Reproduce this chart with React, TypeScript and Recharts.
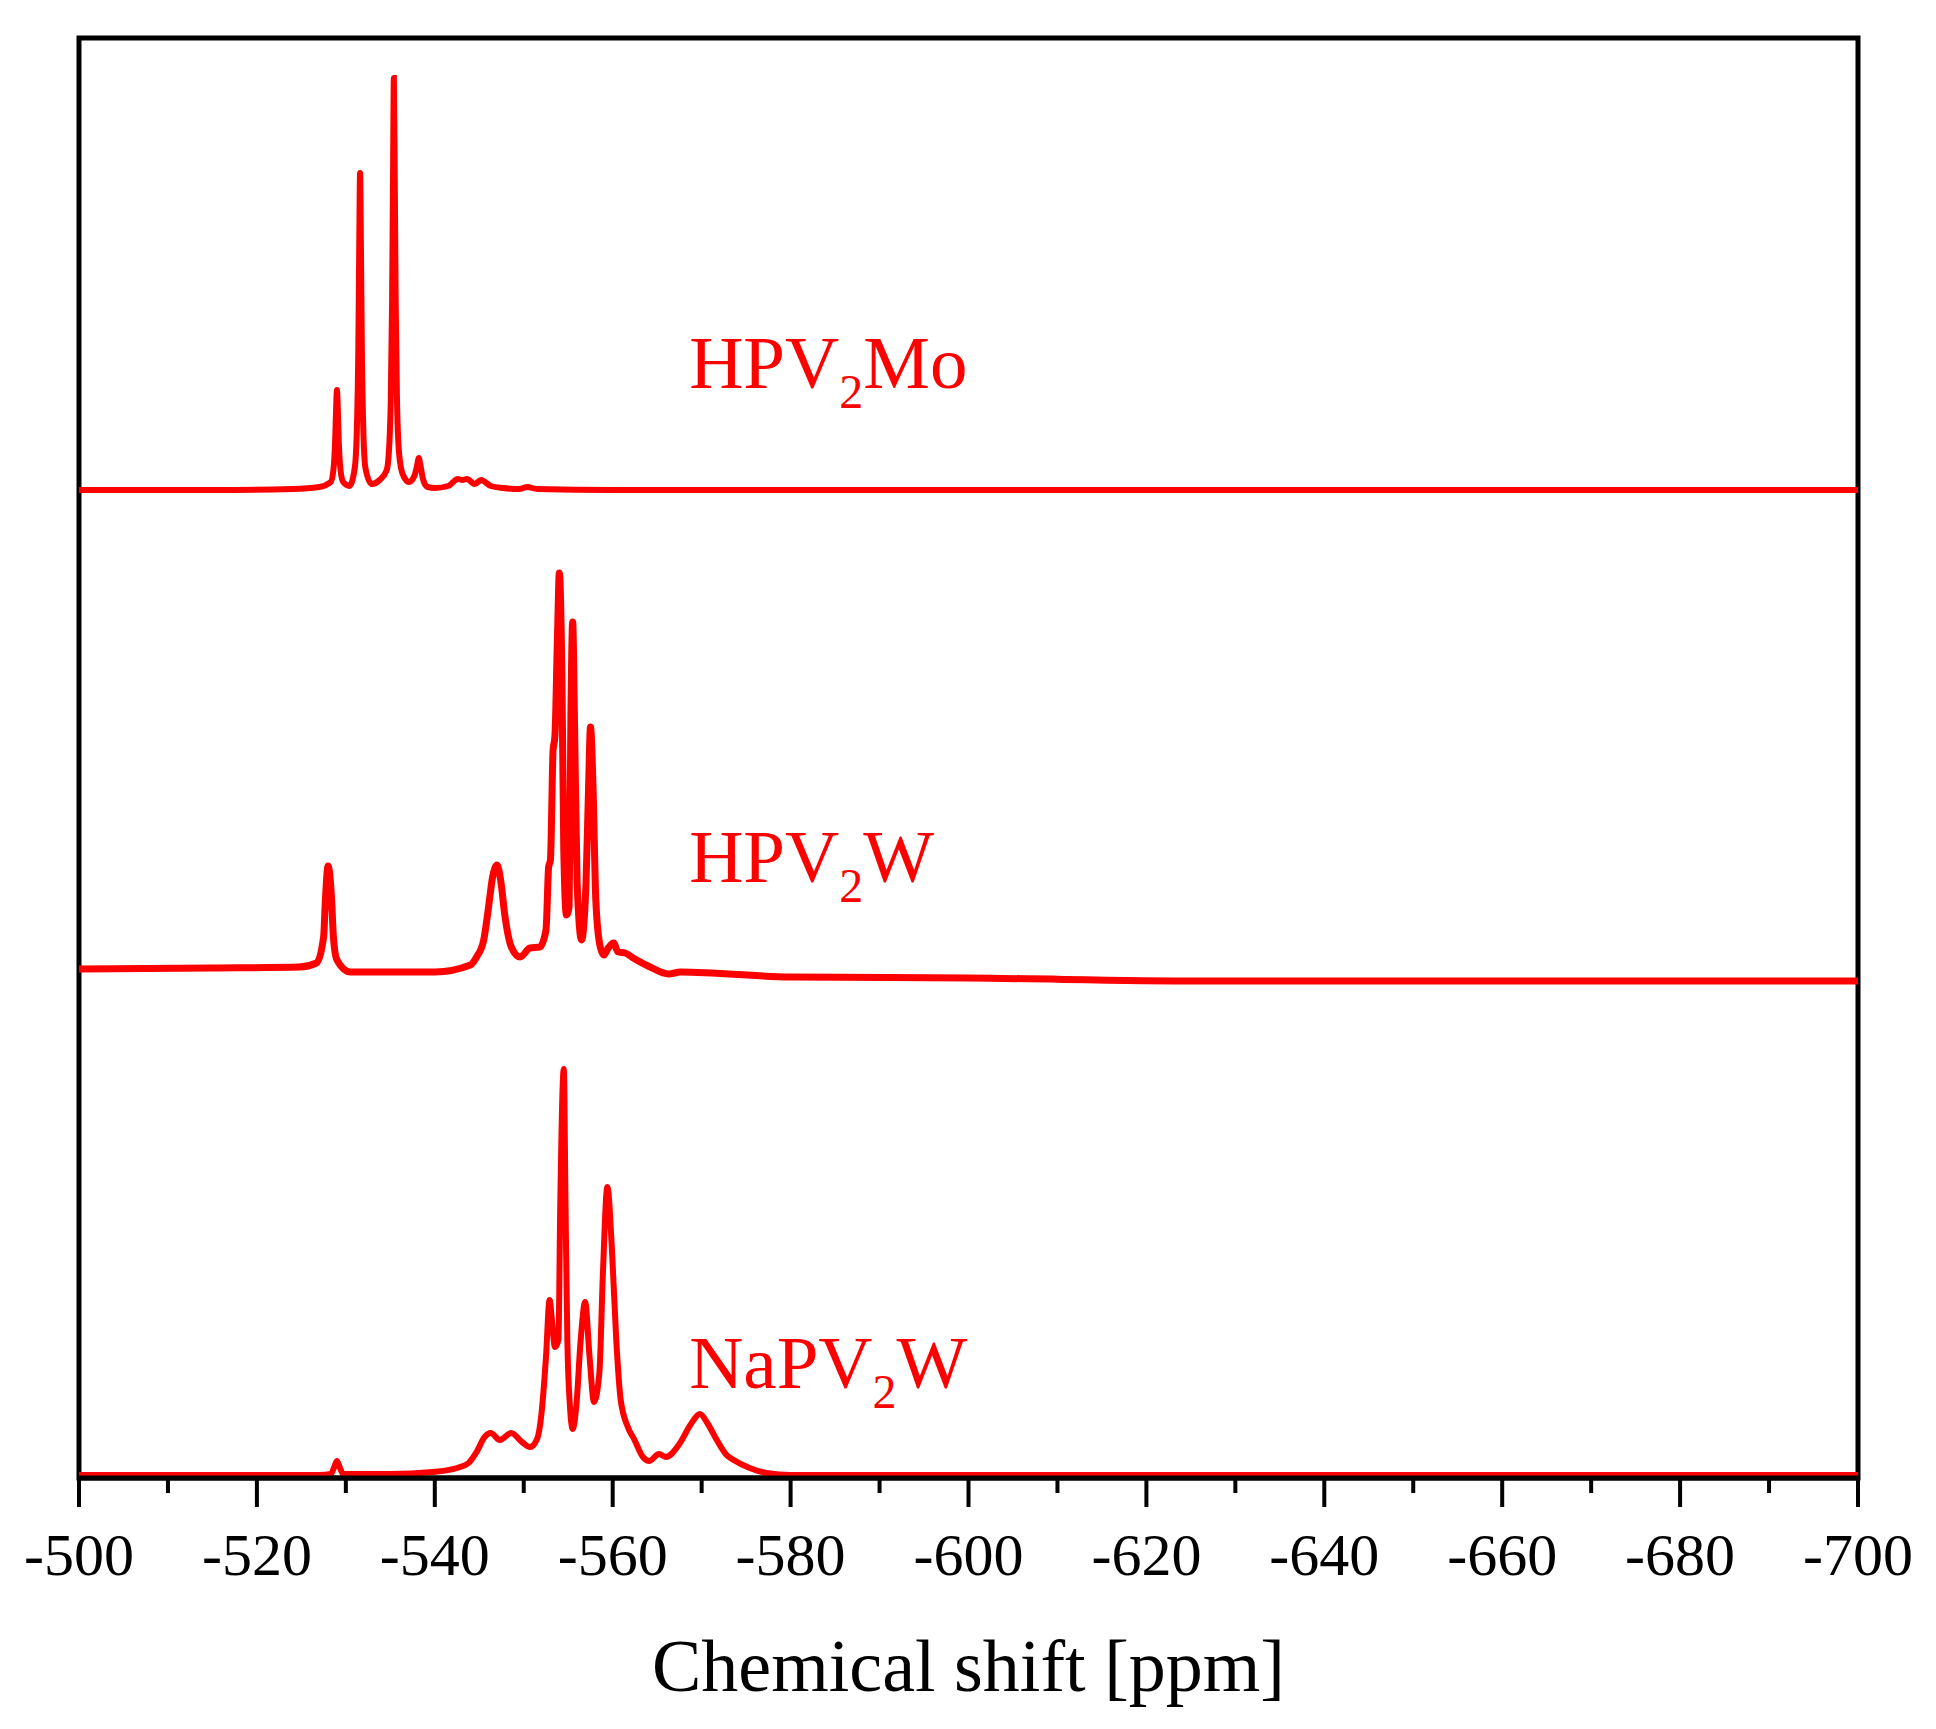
import { Line, LineChart, ReferenceArea, ReferenceDot, XAxis, YAxis } from "recharts";

// 51V NMR spectra, stacked; intensities in arbitrary units above each baseline
const moPpm = [
  -500, -515, -524, -527, -528.3, -528.6, -528.8, -528.9, -529.0, -529.1, -529.2, -529.4, -529.7,
  -530.4, -531.0, -531.25, -531.4, -531.5, -531.6, -531.7, -531.8, -531.95, -532.2, -532.9,
  -533.8, -534.6, -534.9, -535.05, -535.2, -535.3, -535.4, -535.5, -535.6, -535.75, -535.9,
  -536.2, -536.6, -537.1, -537.7, -538.0, -538.2, -538.4, -538.7, -539.2, -540, -541.5, -542.6,
  -543.1, -543.6, -544.5, -545.2, -546.3, -547.7, -549.5, -550.4, -551.5, -560, -600, -700,
];
const moInt = [
  0, 0, 1, 3, 8, 20, 50, 80, 100, 80, 50, 20, 8,
  4, 22, 65, 140, 240, 317, 240, 140, 65, 22, 6,
  10, 20, 48, 90, 190, 310, 412, 310, 190, 90, 48,
  22, 12, 8, 14, 24, 32, 24, 10, 3, 2, 4, 11,
  10, 11, 6, 10, 4, 2, 1, 3, 1, 0, 0, 0,
];

const hwPpm = [
  -500, -515, -524.8, -526.7, -527.5, -527.7, -528.0, -528.4, -528.6, -529.0, -530.5, -540,
  -544.0, -544.7, -545.5, -546.0, -546.5, -547.0, -547.4, -547.9, -548.6, -549.6, -550.7,
  -551.8, -552.5, -552.8, -553.0, -553.3, -553.5, -553.8, -554.0, -554.3, -554.5, -554.8,
  -555.1, -555.3, -555.5, -555.7, -556.0, -556.5, -557.0, -557.3, -557.5, -557.8, -558.1,
  -558.6, -559.0, -559.5, -560.1, -560.6, -561.4, -562.3, -564.2, -566.3, -567.6, -580, -600,
  -626, -660, -700,
];
const hwInt = [
  -1, 0, 1, 5, 31, 68, 102, 68, 31, 8, -4, -4,
  3, 11, 28, 58, 91, 103, 88, 51, 21, 11, 20,
  21, 38, 101, 108, 218, 231, 335, 395, 285, 118, 53,
  61, 251, 346, 251, 85, 28, 85, 185, 241, 178, 68,
  21, 13, 20, 25, 16, 15, 10, 1, -6, -4, -9, -10,
  -13, -13, -13,
];

const naPpm = [
  -500, -527, -528.3, -528.7, -529.0, -529.3, -529.7, -535, -539.8, -542.5, -543.8, -544.7,
  -545.6, -546.3, -547.3, -548.6, -549.8, -550.7, -551.5, -552.0, -552.5, -552.9, -553.2,
  -553.5, -553.9, -554.1, -554.5, -554.7, -554.9, -555.2, -555.5, -555.9, -556.4, -556.9,
  -557.4, -557.9, -558.5, -558.9, -559.4, -559.9, -560.4, -560.9, -561.7, -562.4, -563.4,
  -564.1, -565.2, -566.0, -567.5, -568.8, -569.8, -570.7, -571.7, -572.8, -573.6, -575.4,
  -577.3, -580, -700,
];
const naInt = [
  0, 0, 1, 8, 14, 8, 1, 1, 3, 7, 12, 23,
  38, 42, 35, 42, 33, 28, 36, 62, 118, 175, 152,
  128, 135, 268, 406, 268, 135, 68, 46, 68, 135, 173,
  118, 73, 102, 202, 288, 228, 135, 75, 48, 36, 18,
  14, 21, 18, 31, 51, 61, 51, 35, 20, 15, 7,
  2, 0, 0,
];

// stacking offsets (same units)
const offsets = [988, 510, 3];

const xTicks = [
  -500, -510, -520, -530, -540, -550, -560, -570, -580, -590, -600, -610, -620, -630, -640, -650,
  -660, -670, -680, -690, -700,
];

const labelPrefix = ["HPV", "HPV", "NaPV"];
const labelSuffix = ["Mo", "W", "W"];
const labelPpm = [-568.6, -568.6, -568.6];
const labelLevel = [1090, 596, 90];

const FONT = "'Liberation Serif', 'Times New Roman', serif";
const RED = "#ff0000";

function toPoints(ppm: number[], vals: number[], offset: number) {
  return ppm.map((p, i) => ({ ppm: p, y: vals[i] + offset }));
}

function ShiftTick(props: any) {
  const { x, y, payload } = props;
  const v = payload.value as number;
  const major = v % 20 === 0;
  return (
    <g>
      <line x1={x} x2={x} y1={y} y2={y + (major ? 29 : 15)} stroke="#000" strokeWidth={4} />
      {major && (
        <text x={x} y={y + 97} textAnchor="middle" fontSize={60} fontFamily={FONT} fill="#000">
          {String(v)}
        </text>
      )}
    </g>
  );
}

function SampleLabel(props: any, i: number) {
  const { cx, cy } = props;
  return (
    <text x={cx} y={cy} fill={RED} fontSize={75} fontFamily={FONT}>
      {labelPrefix[i]}
      <tspan fontSize={48} dy={20}>
        2
      </tspan>
      <tspan dy={-20}>{labelSuffix[i]}</tspan>
    </text>
  );
}

export default function App() {
  const mo = toPoints(moPpm, moInt, offsets[0]);
  const hw = toPoints(hwPpm, hwInt, offsets[1]);
  const na = toPoints(naPpm, naInt, offsets[2]);

  return (
    <div style={{ position: "absolute", left: 0, top: 0, width: 1936, height: 1729, background: "#fff" }}>
      <LineChart width={1936} height={1729} margin={{ top: 38, right: 78, bottom: 151, left: 79 }}>
        <XAxis
          dataKey="ppm"
          type="number"
          domain={[-700, -500]}
          reversed
          ticks={xTicks}
          interval={0}
          tickSize={0}
          tickMargin={0}
          tick={<ShiftTick />}
          tickLine={false}
          axisLine={{ stroke: "#000", strokeWidth: 5 }}
          height={100}
          allowDataOverflow
          label={{
            content: (p: any) => {
              const vb = p.viewBox || {};
              return (
                <text
                  x={(vb.x ?? 79) + (vb.width ?? 1779) / 2}
                  y={(vb.y ?? 1478) + 213}
                  textAnchor="middle"
                  fontSize={74}
                  fontFamily={FONT}
                  fill="#000"
                >
                  Chemical shift [ppm]
                </text>
              );
            },
          }}
        />
        <YAxis type="number" domain={[0, 1440]} hide width={0} allowDataOverflow />
        <ReferenceArea x1={-500} x2={-700} y1={0} y2={1440} fill="none" stroke="#000" strokeWidth={5} />
        <Line data={mo} dataKey="y" type="monotoneX" stroke={RED} strokeWidth={6} dot={false} isAnimationActive={false} />
        <Line data={hw} dataKey="y" type="monotoneX" stroke={RED} strokeWidth={7} dot={false} isAnimationActive={false} />
        <Line data={na} dataKey="y" type="monotoneX" stroke={RED} strokeWidth={6} dot={false} isAnimationActive={false} />
        {labelPpm.map((p, i) => (
          <ReferenceDot key={i} x={p} y={labelLevel[i]} r={0} shape={(sp: any) => SampleLabel(sp, i)} />
        ))}
      </LineChart>
    </div>
  );
}
